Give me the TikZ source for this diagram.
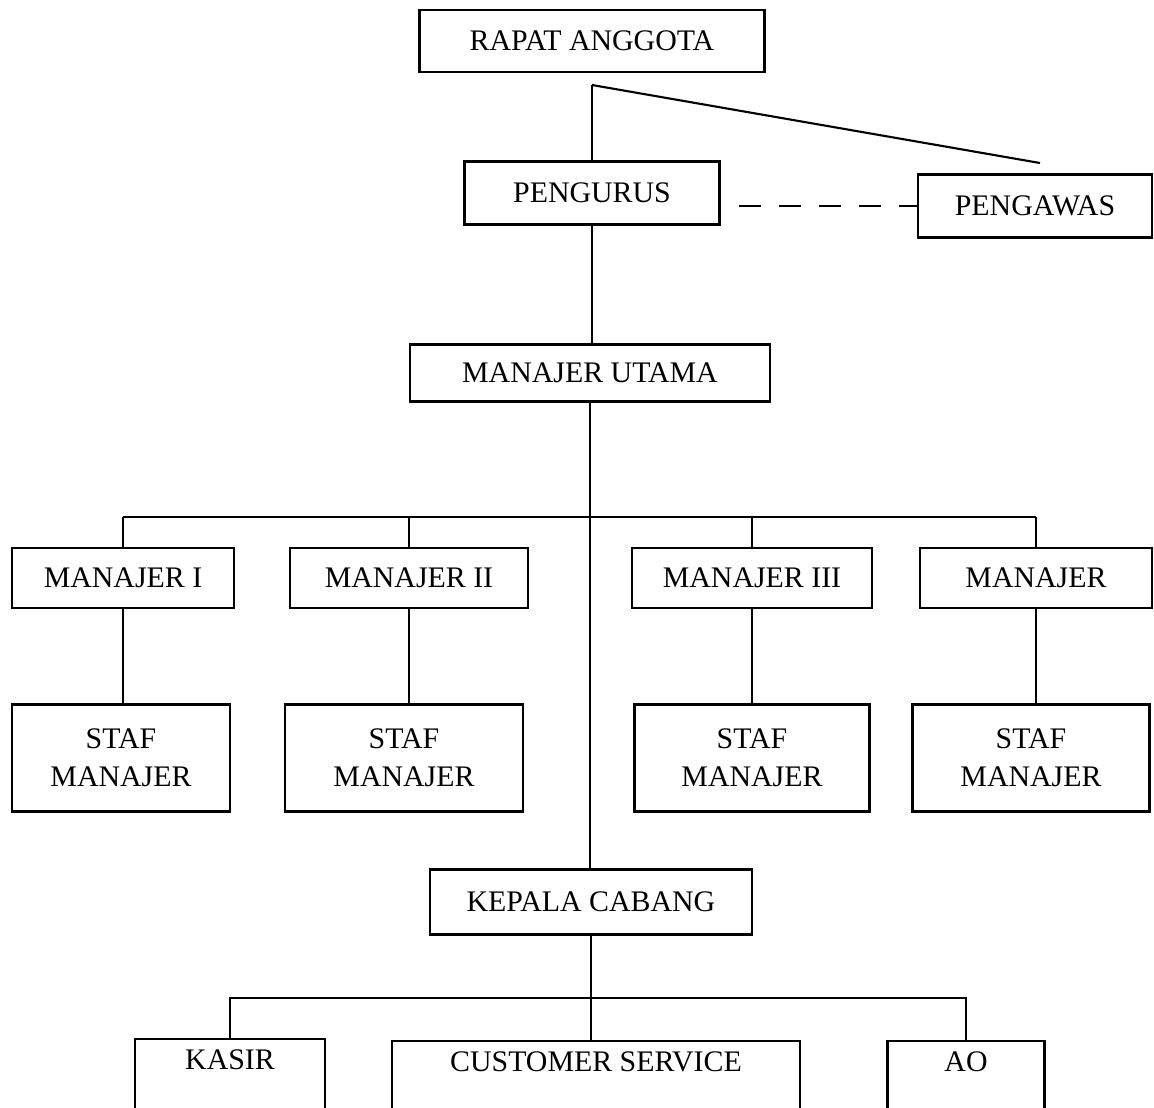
\documentclass[tikz,border=0pt]{standalone}
\usepackage{fontspec}
\setmainfont{Liberation Serif}
\usepackage{tikz}

\begin{document}
\begin{tikzpicture}[x=0.02cm,y=-0.02cm,line width=1.2pt,
		unit/.style={draw, inner sep=0pt, font=\fontsize{17}{21.5}\selectfont, align=center},
		openunit/.style={unit, anchor=north, text height=11pt, text depth=2cm, inner ysep=6.5pt},
		dashline/.style={dash pattern=on 0.44cm off 0.36cm}]
	\useasboundingbox (0,0) rectangle (1154,1107);
	\clip (0,0) rectangle (1154,1107);
	% top levels
	\node[unit, minimum width=6.9cm, minimum height=1.24cm] (rapat) at (592,41) {RAPAT ANGGOTA};
	\node[unit, minimum width=5.1cm, minimum height=1.26cm] (pengurus) at (592,193) {PENGURUS};
	\node[unit, minimum width=4.68cm, minimum height=1.26cm] (pengawas) at (1035,206) {PENGAWAS};
	\node[unit, minimum width=7.2cm, minimum height=1.14cm] (utama) at (590,373) {MANAJER UTAMA};
	% managers and their staff
	\node[unit, minimum width=4.44cm, minimum height=1.2cm] (m1) at (123,578) {MANAJER I};
	\node[unit, minimum width=4.76cm, minimum height=1.2cm] (m2) at (409,578) {MANAJER II};
	\node[unit, minimum width=4.8cm, minimum height=1.2cm] (m3) at (752,578) {MANAJER III};
	\node[unit, minimum width=4.64cm, minimum height=1.2cm] (m4) at (1036,578) {MANAJER};
	\foreach \i/\x/\w in {1/121/4.36, 2/404/4.76, 3/752/4.7, 4/1031/4.74} {
		\node[unit, minimum width=\w cm, minimum height=2.14cm] (s\i) at (\x,758) {STAF\\MANAJER};
	}
	% branch
	\node[unit, minimum width=6.44cm, minimum height=1.3cm] (kepala) at (591,902) {KEPALA CABANG};
	\node[openunit, minimum width=3.8cm] (kasir) at (230,1038) {KASIR};
	\node[openunit, minimum width=8.16cm] (customer) at (596,1040) {CUSTOMER SERVICE};
	\node[openunit, minimum width=3.14cm] (ao) at (966,1040) {AO};
	% connectors
	\coordinate (ra) at (592,85);
	\coordinate (pw) at (1040,163);
	\draw (ra) -- (pengurus.north);
	\draw (ra) -- (pw);
	\draw[dashline] ([xshift=0.36cm]pengurus.east |- pengawas.west) -- (pengawas.west);
	\draw (pengurus.south) -- (pengurus.south |- utama.north);
	\draw (utama.south) -- (utama.south |- kepala.north);
	\coordinate (bus) at (0,517);
	\draw (m1.north |- bus) -- (m4.north |- bus);
	\foreach \i in {1,2,3,4} {
		\draw (m\i.north) -- (m\i.north |- bus);
		\draw (m\i.south) -- (m\i.south |- s\i.north);
	}
	\coordinate (kbus) at (0,998);
	\draw (kepala.south) -- (kepala.south |- customer.north);
	\draw (kasir.north) |- (ao.north |- kbus) -- (ao.north);
\end{tikzpicture}
\end{document}
